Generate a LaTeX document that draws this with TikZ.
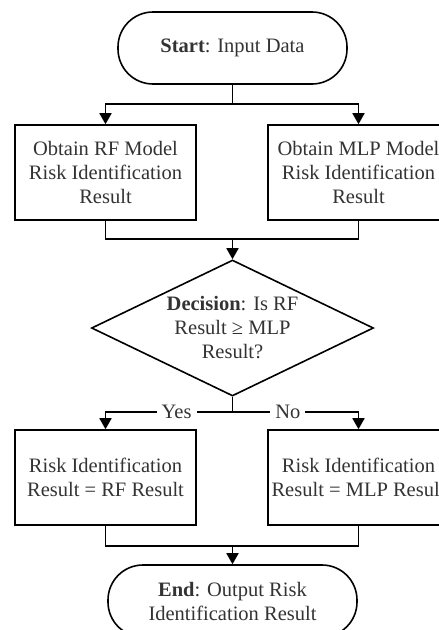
\documentclass[tikz,border=0pt]{standalone}
\usepackage{fontspec}
\setmainfont{Liberation Serif}
\usetikzlibrary{arrows.meta,shapes.geometric}
\begin{document}
\begin{tikzpicture}[x=1pt,y=-1pt,
  every node/.style={font=\fontsize{20.5}{24}\selectfont, text=black!80, align=center},
  terminal/.style={draw, line width=1.6pt, rounded corners=35pt, minimum height=72pt, inner sep=0pt},
  procbox/.style={draw, line width=1.6pt, minimum width=181pt, minimum height=95pt, inner sep=0pt},
  decbox/.style={draw, line width=1.6pt, shape=diamond, aspect=2.09, minimum width=282pt, minimum height=136pt, inner sep=0pt},
  conn/.style={line width=1.8pt},
  arr/.style={conn, -{Triangle[length=11pt,width=12pt]}},
  lbl/.style={fill=white, inner xsep=5pt, inner ysep=1pt}
]
\useasboundingbox (0,0) rectangle (439,630);
\node[terminal, minimum width=229pt] (start) at (232.5,48) {\textbf{Start}: Input Data};
\node[procbox] (rf) at (105.5,172.5) {Obtain RF Model\\Risk Identification\\Result};
\node[procbox] (mlp) at (358.5,172.5) {Obtain MLP Model\\Risk Identification\\Result};
\node[decbox] (dec) at (232.5,328) {\textbf{Decision}: Is RF\\Result ≥ MLP\\Result?};
\node[procbox] (resrf) at (105.5,477.5) {Risk Identification\\Result = RF Result};
\node[procbox] (resmlp) at (358.5,477.5) {Risk Identification\\Result = MLP Result};
\node[terminal, minimum width=249pt] (end) at (232.5,601) {\textbf{End}: Output Risk\\Identification Result};
\coordinate (j1) at (232.5,104);
\coordinate (j2) at (232.5,239);
\coordinate (j3) at (232.5,412);
\coordinate (j4) at (232.5,546);
\draw[conn] (start) -- (j1);
\draw[arr] (j1) -| (rf);
\draw[arr] (j1) -| (mlp);
\draw[conn] (rf) |- (j2);
\draw[conn] (mlp) |- (j2);
\draw[arr] (j2) -- (dec);
\draw[conn] (dec) -- (j3);
\draw[arr] (j3) -| node[lbl, pos=0.22] {Yes} (resrf);
\draw[arr] (j3) -| node[lbl, pos=0.22] {No} (resmlp);
\draw[conn] (resrf) |- (j4);
\draw[conn] (resmlp) |- (j4);
\draw[arr] (j4) -- (end);
\end{tikzpicture}
\end{document}
